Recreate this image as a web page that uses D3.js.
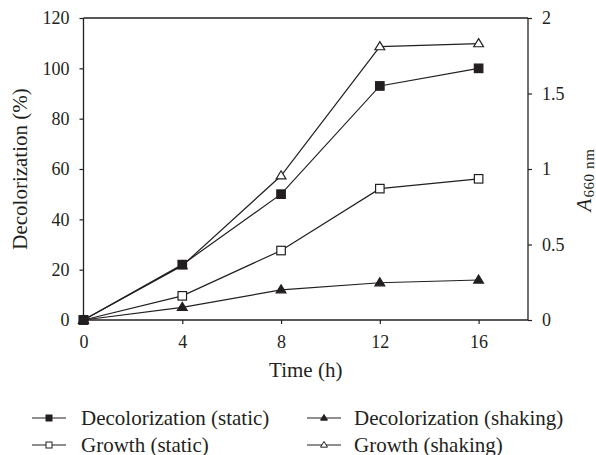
<!DOCTYPE html>
<html><head><meta charset="utf-8">
<script src="https://cdn.jsdelivr.net/npm/d3@7"></script>
<style>body{margin:0;background:#fff}svg{display:block}text{font-family:"Liberation Serif","Times New Roman",serif;fill:#231f20}</style>
</head><body>
<svg id="c" width="596" height="455"></svg>
<script>
const times = [0, 4, 8, 12, 16];
const decolStatic = [0, 22, 50, 93, 100];
const decolShaking = [0, 5, 12, 14.8, 15.9];
const growthStatic = [0, 0.16, 0.46, 0.87, 0.935];
const growthShaking = [0, 0.36, 0.955, 1.81, 1.83];
const xTicks = [0, 4, 8, 12, 16];
const yLeftTicks = [0, 20, 40, 60, 80, 100, 120];
const yRightTicks = [0, 0.5, 1, 1.5, 2];
const yRightLabels = ["0", "0.5", "1", "1.5", "2"];
const seriesNames = ["Decolorization (static)", "Decolorization (shaking)", "Growth (static)", "Growth (shaking)"];

const FONT = '"Liberation Serif","Times New Roman",serif';
const svg = d3.select("#c");
const m = {l: 83.5, r: 528, t: 18, b: 320};
const x = d3.scaleLinear().domain([0, 18]).range([m.l, m.r]);
const yL = d3.scaleLinear().domain([0, 120]).range([m.b, m.t]);
const yR = d3.scaleLinear().domain([0, 2]).range([m.b, m.t]);
const ink = "#231f20";

// frame top
svg.append("line").attr("x1", m.l).attr("x2", m.r).attr("y1", m.t).attr("y2", m.t).attr("stroke", ink).attr("stroke-width", 1.3);

const tfs = 18, fs = 21;
const gx = svg.append("g").attr("transform", `translate(0,${m.b})`)
  .call(d3.axisBottom(x).tickValues(xTicks).tickSize(4).tickSizeOuter(0).tickPadding(11));
const gl = svg.append("g").attr("transform", `translate(${m.l},0)`)
  .call(d3.axisLeft(yL).tickValues(yLeftTicks).tickSize(4).tickSizeOuter(0).tickPadding(10));
const gr = svg.append("g").attr("transform", `translate(${m.r},0)`)
  .call(d3.axisRight(yR).tickValues(yRightTicks).tickFormat((d, i) => yRightLabels[i]).tickSize(4).tickSizeOuter(0).tickPadding(10));
[gx, gl, gr].forEach(g => {
  g.attr("font-family", FONT);
  g.select(".domain").attr("stroke", ink).attr("stroke-width", 1.3);
  g.selectAll(".tick line").attr("stroke", ink).attr("stroke-width", 1.2);
  g.selectAll(".tick text").attr("font-size", tfs).attr("fill", ink).style("font-family", FONT);
});
gx.select(".domain").attr("d", `M${m.l},0H${m.r}`);
gl.select(".domain").attr("d", `M0,${m.t}V${m.b}`);
gr.select(".domain").attr("d", `M0,${m.t}V${m.b}`);

// axis titles
svg.append("text").attr("x", (m.l + m.r) / 2).attr("y", 377).attr("text-anchor", "middle").attr("font-size", fs).style("font-family", FONT).text("Time (h)");
svg.append("text").attr("transform", `translate(27,169) rotate(-90)`).attr("text-anchor", "middle").attr("font-size", fs).style("font-family", FONT).text("Decolorization (%)");
const rt = svg.append("text").attr("transform", `translate(591,180) rotate(-90)`).attr("text-anchor", "middle")
  .attr("font-size", 21).style("font-family", FONT);
rt.append("tspan").attr("font-style", "italic").text("A");
rt.append("tspan").attr("font-size", 15).attr("dy", 3).attr("dx", 1).attr("letter-spacing", 0.6).text("660 nm");

// series
const series = [
  {vals: decolStatic, scale: yL, shape: "square", fill: ink},
  {vals: decolShaking, scale: yL, shape: "triangle", fill: ink},
  {vals: growthStatic, scale: yR, shape: "square", fill: "#fff"},
  {vals: growthShaking, scale: yR, shape: "triangle", fill: "#fff"}
];
series.forEach((s, i) => s.name = seriesNames[i]);
const line = (s) => d3.line().x((d, i) => x(times[i])).y(d => s.scale(d));
function marker(g, shape, fill, cx, cy, size, sw) {
  if (shape === "square") {
    g.append("rect").attr("x", cx - size / 2).attr("y", cy - size / 2).attr("width", size).attr("height", size)
      .attr("fill", fill).attr("stroke", ink).attr("stroke-width", sw);
  } else {
    const h = size * 0.95, w = size * 1.15;
    g.append("path").attr("d", `M${cx},${cy - h * 0.62}L${cx + w / 2},${cy + h * 0.38}L${cx - w / 2},${cy + h * 0.38}Z`)
      .attr("fill", fill).attr("stroke", ink).attr("stroke-width", sw);
  }
}
const gs = svg.append("g");
series.forEach(s => {
  gs.append("path").datum(s.vals).attr("d", line(s)).attr("fill", "none").attr("stroke", ink).attr("stroke-width", 1.2);
});
[3, 2, 1, 0].forEach(k => {
  const s = series[k];
  s.vals.forEach((v, i) => marker(gs, s.shape, s.fill, x(times[i]), s.scale(v), 8.5, 1.2));
});

// legend
const legLineX = [32, 307], legTextX = [81, 354], legY = [418, 445];
series.forEach((s, i) => {
  const col = i === 0 || i === 2 ? 0 : 1;
  const row = i < 2 ? 0 : 1;
  const lx = legLineX[col], ly = legY[row];
  svg.append("line").attr("x1", lx).attr("x2", lx + 34).attr("y1", ly).attr("y2", ly).attr("stroke", ink).attr("stroke-width", 1.2);
  marker(svg, s.shape, s.fill, lx + 17, ly, 6, 1);
  svg.append("text").attr("x", legTextX[col]).attr("y", ly + 6.5).attr("font-size", fs).style("font-family", FONT).text(s.name);
});
</script>
</body></html>
